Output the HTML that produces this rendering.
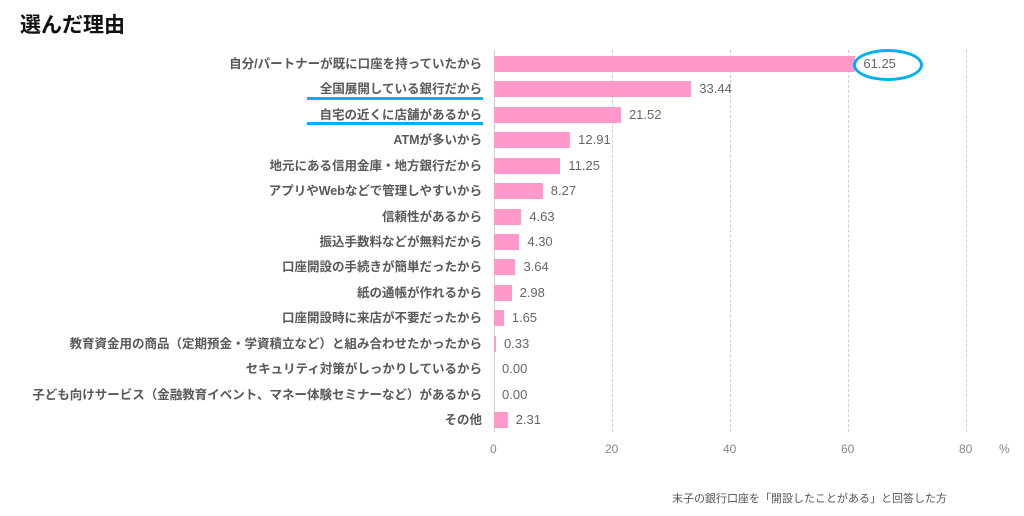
<!DOCTYPE html>
<html><head><meta charset="utf-8"><style>
body{margin:0;width:1024px;height:516px;background:#fff;position:relative;overflow:hidden;font-family:"Liberation Sans","Noto Sans CJK JP",sans-serif}
.a{position:absolute;white-space:nowrap}
.l{right:542px;font-size:12.5px;font-weight:bold;color:#595959;line-height:16px}
.v{font-size:13px;color:#666;line-height:16px}
.b{position:absolute;left:494px;height:16px;background:#ff99cc}
.g{position:absolute;top:50px;height:382px;border-left:1px dashed #d0d0d0}
.t{font-size:12px;color:#888;top:442px}
</style></head><body>
<div class="a" style="left:20px;top:9px;font-size:21px;font-weight:bold;color:#111">選んだ理由</div>
<div class="a" style="left:494px;top:50px;height:382px;border-left:1px solid #ccc"></div>
<div class="g" style="left:612px"></div><div class="g" style="left:730px"></div><div class="g" style="left:848px"></div><div class="g" style="left:966px"></div>
<div class="a t" style="left:490px">0</div><div class="a t" style="left:605px">20</div><div class="a t" style="left:723px">40</div><div class="a t" style="left:841px">60</div><div class="a t" style="left:959px">80</div><div class="a t" style="left:999px">%</div>
<div id="c"></div>
<div class="a" style="left:672px;top:490px;font-size:11px;color:#555">末子の銀行口座を「開設したことがある」と回答した方</div>
<div class="a" style="left:853px;top:49px;width:64px;height:26px;border:3px solid #00b0f0;border-radius:50%"></div>
<div class="a" style="left:307px;top:97px;width:176px;height:3px;background:#00b0f0"></div>
<div class="a" style="left:307px;top:122px;width:176px;height:3px;background:#00b0f0"></div>
<script>
var d=[["自分/パートナーが既に口座を持っていたから",61.25],["全国展開している銀行だから",33.44],["自宅の近くに店舗があるから",21.52],["ATMが多いから",12.91],["地元にある信用金庫・地方銀行だから",11.25],["アプリやWebなどで管理しやすいから",8.27],["信頼性があるから",4.63],["振込手数料などが無料だから",4.30],["口座開設の手続きが簡単だったから",3.64],["紙の通帳が作れるから",2.98],["口座開設時に来店が不要だったから",1.65],["教育資金用の商品（定期預金・学資積立など）と組み合わせたかったから",0.33],["セキュリティ対策がしっかりしているから",0.00],["子ども向けサービス（金融教育イベント、マネー体験セミナーなど）があるから",0.00],["その他",2.31]];
var h="";d.forEach(function(r,i){var y=56+i*25.43,w=r[1]*5.9;
h+='<div class="a l" style="top:'+y+'px">'+r[0]+'</div><div class="b" style="top:'+y+'px;width:'+w+'px"></div><div class="a v" style="top:'+y+'px;left:'+(494+w+8)+'px">'+r[1].toFixed(2)+'</div>';});
document.getElementById("c").innerHTML=h;
</script>
</body></html>
